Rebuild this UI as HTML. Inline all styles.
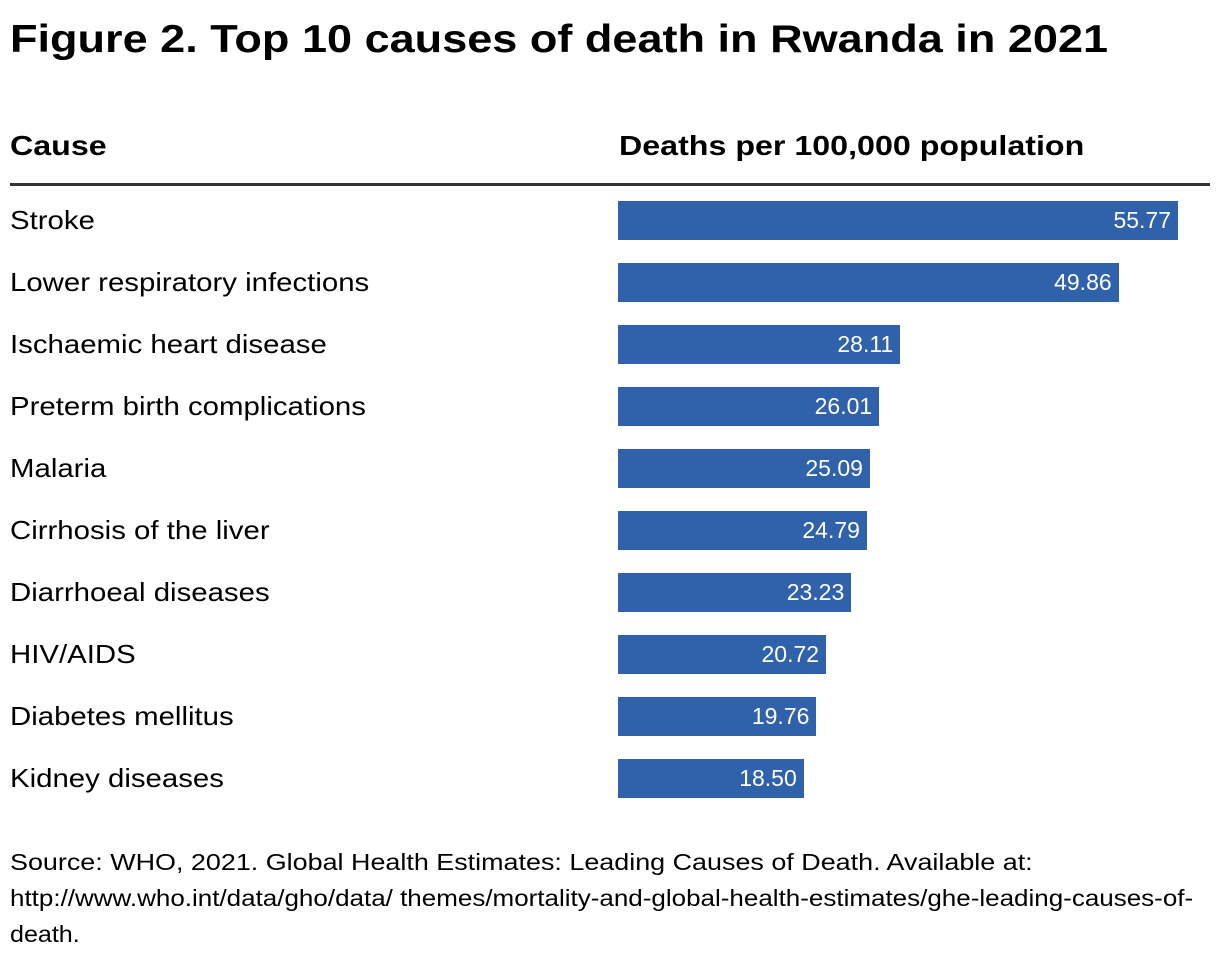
<!DOCTYPE html>
<html><head><meta charset="utf-8">
<style>
body{margin:0;width:1220px;height:960px;background:#fff;font-family:"Liberation Sans",sans-serif;color:#000;position:relative;overflow:hidden}
.abs{position:absolute;white-space:nowrap;transform-origin:0 50%}
#title{left:10px;top:18px;font-size:39px;font-weight:bold;transform:scaleX(1.155)}
.hdr{top:130px;font-size:28px;font-weight:bold;transform:scaleX(1.15)}
#rule{left:10px;top:183px;width:1200px;height:3px;background:#333;transform:none}
.lab{left:10px;font-size:26px;line-height:40px;transform:scaleX(1.13)}
.bar{left:618px;height:39px;background:#2f62ab;color:#fff;font-size:23px;line-height:39px;text-align:right;box-sizing:border-box;padding-right:7px}
.src{left:10px;font-size:23px;line-height:36px}
</style></head><body>
<div id="title" class="abs">Figure 2. Top 10 causes of death in Rwanda in 2021</div>
<div class="abs hdr" style="left:10px">Cause</div>
<div class="abs hdr" style="left:619px">Deaths per 100,000 population</div>
<div id="rule" class="abs"></div>
<div id="rows"></div>
<div>
<div class="abs src" style="top:844px;transform:scaleX(1.17)">Source: WHO, 2021. Global Health Estimates: Leading Causes of Death. Available at:</div>
<div class="abs src" style="top:880px;transform:scaleX(1.13)">http://www.who.int/data/gho/data/ themes/mortality-and-global-health-estimates/ghe-leading-causes-of-</div>
<div class="abs src" style="top:916px;transform:scaleX(1.09)">death.</div>
</div>
<script>
const causes=["Stroke","Lower respiratory infections","Ischaemic heart disease","Preterm birth complications","Malaria","Cirrhosis of the liver","Diarrhoeal diseases","HIV/AIDS","Diabetes mellitus","Kidney diseases"];
const values=[55.77,49.86,28.11,26.01,25.09,24.79,23.23,20.72,19.76,18.50];
function xScale(v){return v*560/55.77;}
function yPos(i){return 201+i*62;}
const rows=document.getElementById('rows');
causes.forEach((c,i)=>{
  const l=document.createElement('div');
  l.className='abs lab';
  l.style.top=(yPos(i)-1)+'px';
  l.textContent=c;
  
  
  rows.appendChild(l);
  const b=document.createElement('div');
  b.className='abs bar';
  b.style.top=yPos(i)+'px';
  b.style.width=xScale(values[i])+'px';
  b.textContent=values[i].toFixed(2);
  
  
  rows.appendChild(b);
});
</script>
</body></html>
